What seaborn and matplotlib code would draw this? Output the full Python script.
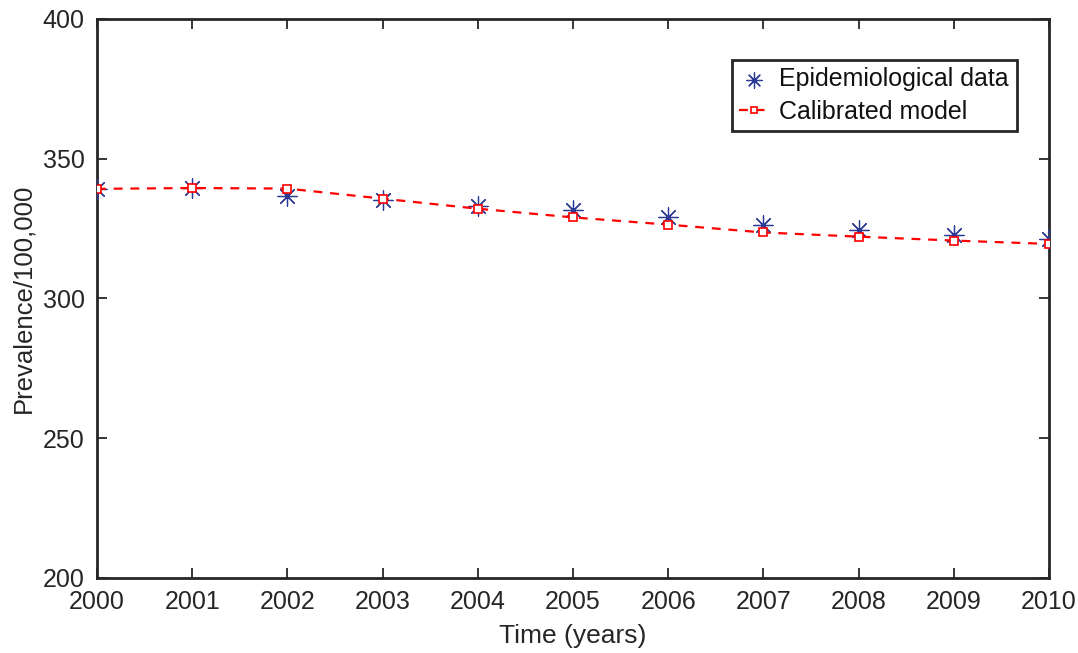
import matplotlib
matplotlib.use("Agg")
import matplotlib.pyplot as plt
import seaborn as sns
import pandas as pd

years = [2000, 2001, 2002, 2003, 2004, 2005, 2006, 2007, 2008, 2009, 2010]
epi_data = [339.2, 339.6, 336.8, 335.2, 333.1, 331.8, 329.3, 326.3, 324.5, 322.6, 321.4]
model = [339.2, 339.5, 339.3, 335.7, 332.1, 329.0, 326.4, 323.6, 322.1, 320.7, 319.5]
yticks = [200, 250, 300, 350, 400]

sns.set_theme(style="white")
plt.rcParams['font.family'] = ['Liberation Sans', 'DejaVu Sans']

df = pd.DataFrame({"year": years, "epi": epi_data, "model": model})

fig = plt.figure(figsize=(10.78, 6.53), dpi=100)
ax = fig.add_axes([0.09, 0.115, 0.883, 0.856])

sns.scatterplot(data=df, x="year", y="epi", marker=(8, 2, 0), s=190,
                color="#2B3A94", linewidth=0.9, ax=ax, label="Epidemiological data", zorder=3)
sns.lineplot(data=df, x="year", y="model", color="#FF0000", linewidth=1.6,
             marker="s", markersize=6, markerfacecolor="white", markeredgecolor="#FF0000",
             markeredgewidth=1.2, ax=ax, label="Calibrated model", zorder=4)
ax.lines[-1].set_dashes([4, 3.5])

ax.set_xlim(2000, 2010)
ax.set_ylim(200, 400)
ax.set_xticks(years)
ax.set_xticklabels([str(y) for y in years])
ax.set_yticks(yticks)
ax.set_xlabel("Time (years)", fontsize=19, color="#262626", labelpad=7)
ax.set_ylabel("Prevalence/100,000", fontsize=18.5, color="#262626", labelpad=5)

for s in ax.spines.values():
    s.set_color("#262626")
    s.set_linewidth(2.0)
ax.tick_params(direction="in", length=7, width=1.3, colors="#262626",
               labelsize=18, top=True, right=True, bottom=True, left=True, pad=9)

leg = ax.legend(loc="upper right", bbox_to_anchor=(0.966, 0.927), borderaxespad=0,
                fontsize=18, frameon=True, fancybox=False, edgecolor="#262626",
                framealpha=1, handlelength=1.2, handletextpad=0.4, borderpad=0.3,
                labelspacing=0.35, markerscale=0.8)
leg.get_frame().set_linewidth(2.0)
for t in leg.get_texts():
    t.set_color("#111111")

fig.savefig("out.png", dpi=100)
